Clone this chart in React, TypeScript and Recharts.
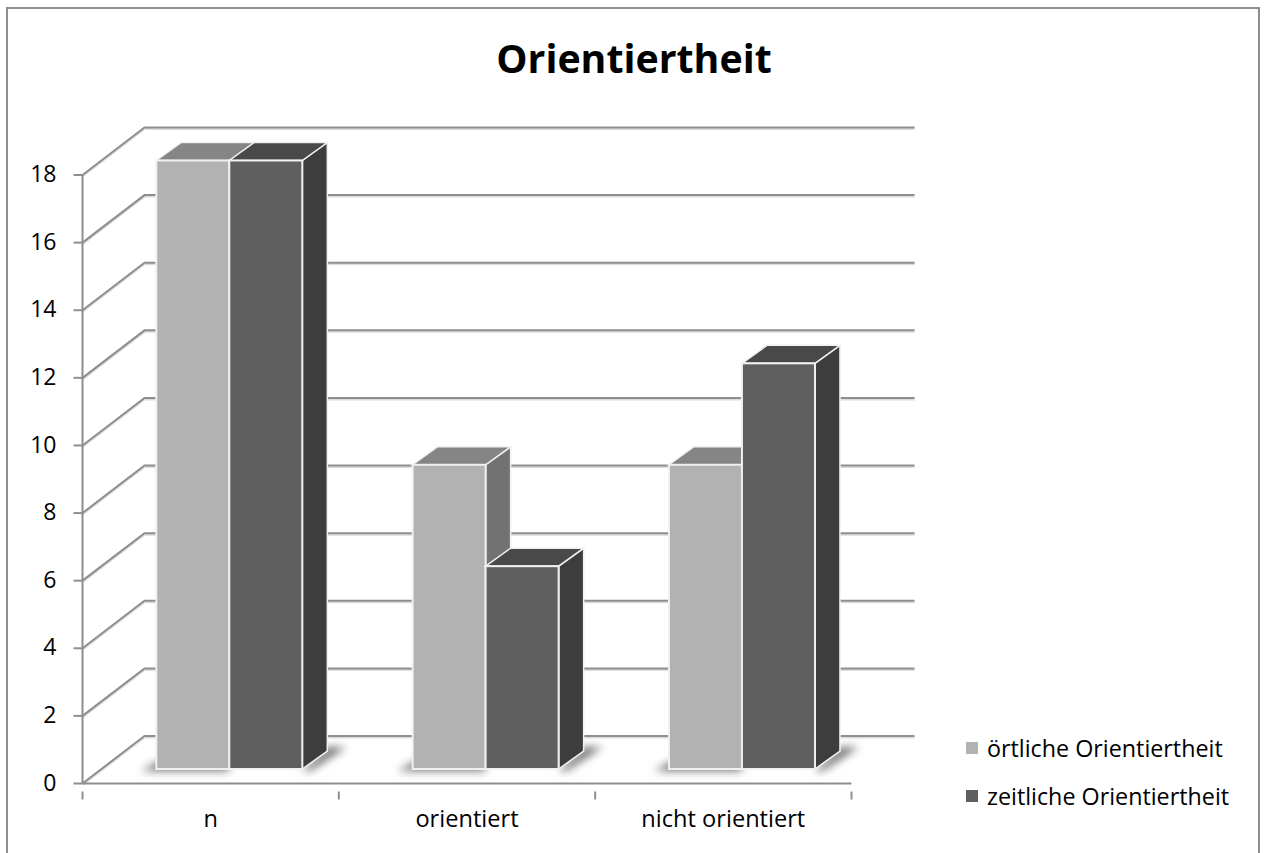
import React from 'react';
import { BarChart, Bar, XAxis, YAxis, CartesianGrid, Legend } from 'recharts';

const categories = ['n', 'orientiert', 'nicht orientiert'];
const oertlich = [18, 9, 9];
const zeitlich = [18, 6, 12];
const yTicks = [0, 2, 4, 6, 8, 10, 12, 14, 16, 18];

const chartData = categories.map((name, i) => ({ name, oertlich: oertlich[i], zeitlich: zeitlich[i] }));

const FONT = '"Open Sans", sans-serif';
const AXIS_GREY = '#8e8e8e';
const WALL_DX = 62;
const WALL_DY = -47.5;
// bars stand a bit behind the front edge of the floor
const BAR_DX = 18.8;
const BAR_DY = -14.5;
const DEPTH_X = 25;
const DEPTH_Y = -18;

const pts = (list: number[][]) => list.map((p) => p.join(',')).join(' ');

const makeBox = (top: string, side: string, isFirst: boolean) => (props: any) => {
    const { x, y, width, height, fill } = props;
    const l = x + BAR_DX;
    const r = l + width;
    const t = y + BAR_DY;
    const b = t + height;
    const shadow = isFirst
        ? [[l - 15, b + 2], [r, b + 2], [r, b - 8], [l + 3, b - 8]]
        : [[r, b + 2], [r + 8, b + 2], [r + 44, b - 22], [r + 25, b - 22]];
    return (
        <g>
            <polygon points={pts(shadow)} fill="#747474" style={{ filter: 'blur(4px)' }} />
            <polygon
                points={pts([[r, t], [r + DEPTH_X, t + DEPTH_Y], [r + DEPTH_X, b + DEPTH_Y], [r, b]])}
                fill={side}
                stroke="#f0f0f0"
                strokeWidth={1.5}
            />
            <polygon
                points={pts([[l, t], [l + DEPTH_X, t + DEPTH_Y], [r + DEPTH_X, t + DEPTH_Y], [r, t]])}
                fill={top}
                stroke="#f0f0f0"
                strokeWidth={1.5}
            />
            <rect x={l} y={t} width={width} height={height} fill={fill} stroke="#f0f0f0" strokeWidth={2} />
        </g>
    );
};

// back wall line plus the diagonal going to the front axis
const wallLine = (props: any) => {
    const { x1, x2, y1, index } = props;
    const d = `M${x1},${y1} L${x1 + WALL_DX},${y1 + WALL_DY} L${x2 + WALL_DX + 1},${y1 + WALL_DY}`;
    const isFloor = Math.abs(y1 - 784.5) < 1;
    return (
        <g key={`wall-${index}`} fill="none">
            <path d={d} stroke="#dcdcdc" strokeWidth={2} transform="translate(0,1.5)" />
            <path d={d} stroke={AXIS_GREY} strokeWidth={2} />
            {isFloor && (
                <path d={`M${x2},${y1} L${x2 + WALL_DX + 1},${y1 + WALL_DY}`} stroke={AXIS_GREY} strokeWidth={2} />
            )}
        </g>
    );
};

const CategoryTick = (props: any) => {
    const { x, y, payload, index } = props;
    const half = payload.offset ?? 128.4;
    return (
        <g>
            <line x1={x - half} x2={x - half} y1={y} y2={y + 8} stroke={AXIS_GREY} strokeWidth={2} />
            {index === categories.length - 1 && (
                <line x1={x + half} x2={x + half} y1={y} y2={y + 8} stroke={AXIS_GREY} strokeWidth={2} />
            )}
            <text x={x} y={y + 35} textAnchor="middle" fontFamily={FONT} fontSize={23.6} fill="#000">
                {payload.value}
            </text>
        </g>
    );
};

const renderLegend = (props: any) => (
    <div>
        {[...props.payload]
            .sort((a: any, b: any) => (a.dataKey === 'oertlich' ? -1 : b.dataKey === 'oertlich' ? 1 : 0))
            .map((item: any) => (
                <div key={item.value} style={{ display: 'flex', alignItems: 'center', height: 48 }}>
                    <span style={{ width: 12, height: 12, background: item.color, marginRight: 9 }} />
                    <span style={{ fontFamily: FONT, fontSize: 23.3, color: '#000', whiteSpace: 'nowrap' }}>{item.value}</span>
                </div>
            ))}
    </div>
);

export default function App() {
    return (
        <div style={{ position: 'fixed', left: 0, top: 0, width: 1265, height: 853, overflow: 'hidden', background: '#fff' }}>
            <div
                style={{
                    position: 'absolute',
                    left: 6,
                    top: 7,
                    width: 1250,
                    height: 900,
                    borderTop: '2px solid #8e8e8e',
                    borderLeft: '2px solid #8e8e8e',
                    borderRight: '2px solid #8e8e8e',
                }}
            />
            <div style={{ position: 'absolute', left: 0, top: 0 }}>
                <BarChart
                    width={1265}
                    height={853}
                    data={chartData}
                    margin={{ top: 175, right: 413.5, bottom: 68.5, left: 81.5 }}
                    barSize={73}
                    barGap={0}
                >
                    <CartesianGrid horizontal={wallLine} vertical={false} />
                    <XAxis
                        dataKey="name"
                        height={1}
                        axisLine={{ stroke: AXIS_GREY, strokeWidth: 2 }}
                        tickLine={false}
                        interval={0}
                        tick={<CategoryTick />}
                    />
                    <YAxis
                        width={1}
                        domain={[0, 18]}
                        ticks={yTicks}
                        interval={0}
                        axisLine={{ stroke: AXIS_GREY, strokeWidth: 2 }}
                        tickLine={{ stroke: AXIS_GREY, strokeWidth: 2 }}
                        tickSize={9}
                        tickMargin={17}
                        tick={{ fontFamily: FONT, fontSize: 23, fill: '#000', dy: -1 }}
                    />
                    <Legend
                        layout="vertical"
                        align="center"
                        verticalAlign="middle"
                        content={renderLegend}
                        wrapperStyle={{ position: 'absolute', left: 966, top: 724, width: 290, height: 96 }}
                    />
                    <Bar dataKey="oertlich" name="örtliche Orientiertheit" fill="#b2b2b2" isAnimationActive={false} shape={makeBox('#858585', '#727272', true)} />
                    <Bar dataKey="zeitlich" name="zeitliche Orientiertheit" fill="#5f5f5f" isAnimationActive={false} shape={makeBox('#494949', '#3d3d3d', false)} />
                    <text x={634} y={73} textAnchor="middle" fontFamily={FONT} fontSize={39.3} fontWeight={700} fill="#000">
                        Orientiertheit
                    </text>
                </BarChart>
            </div>
        </div>
    );
}
